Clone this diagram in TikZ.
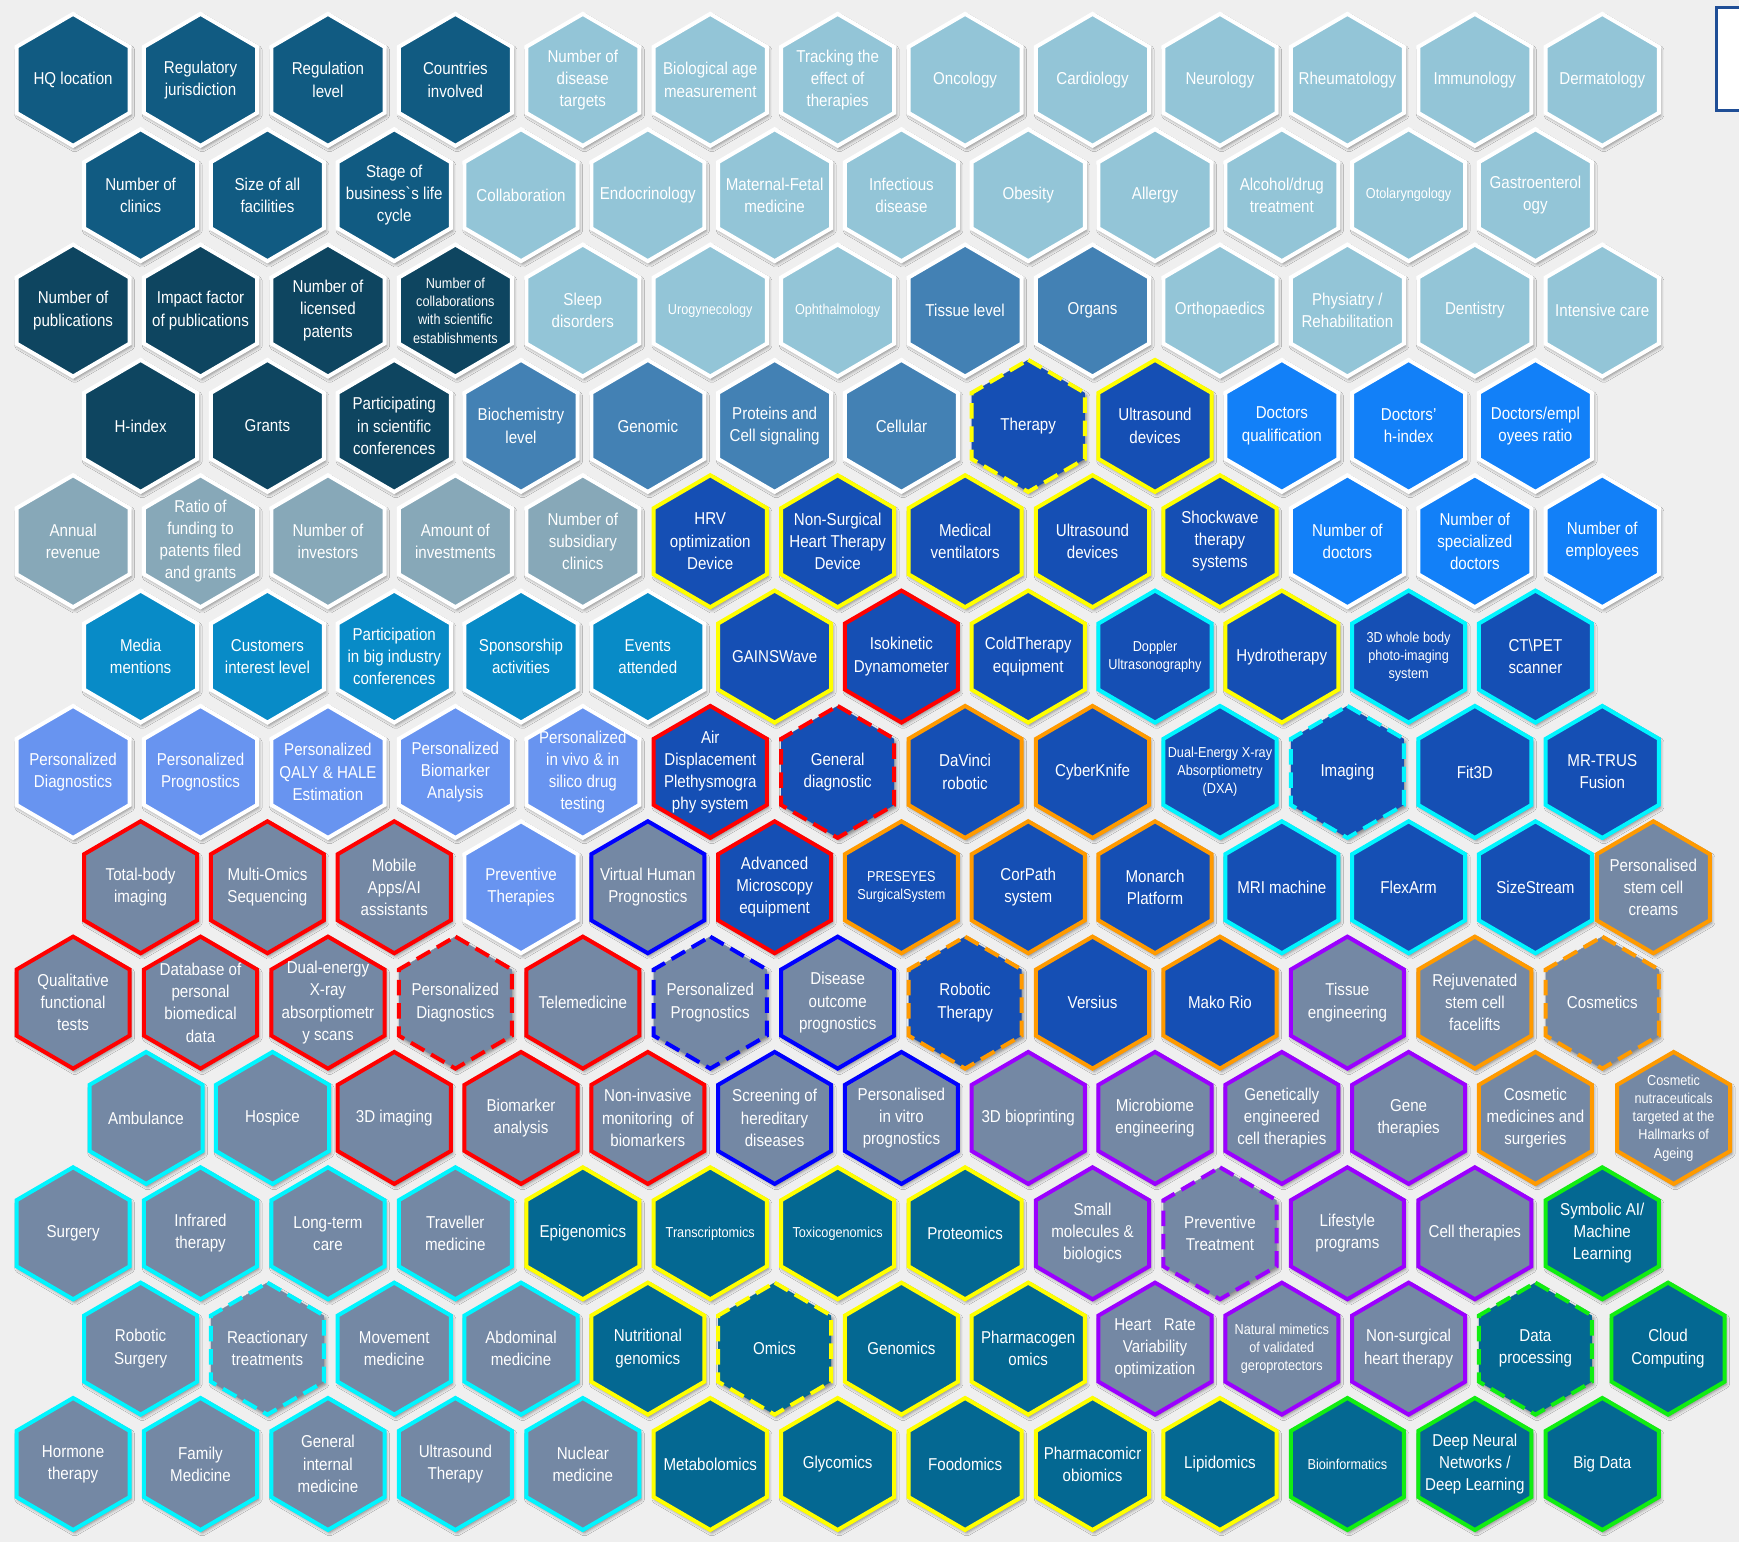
\documentclass[tikz,border=0pt]{standalone}
\usepackage{fontspec}
\setmainfont[FakeStretch=0.88]{Liberation Sans}
\usepackage{tikz}
\usetikzlibrary{shadows.blur}
\definecolor{paper}{HTML}{EFEFEF}
\definecolor{fillDark}{HTML}{115B82}
\definecolor{fillNavy}{HTML}{0E4560}
\definecolor{fillLight}{HTML}{93C5D7}
\definecolor{fillMid}{HTML}{4381B4}
\definecolor{fillBright}{HTML}{1280F8}
\definecolor{fillRoyal}{HTML}{154FB4}
\definecolor{fillGrey}{HTML}{87A8B8}
\definecolor{fillCerul}{HTML}{088BC7}
\definecolor{fillPeri}{HTML}{6894F0}
\definecolor{fillSlate}{HTML}{7488A4}
\definecolor{fillTeal}{HTML}{046892}
\definecolor{edgeRed}{HTML}{FF0000}
\definecolor{edgeYel}{HTML}{FFFF00}
\definecolor{edgeBlue}{HTML}{0000FF}
\definecolor{edgeOra}{HTML}{FF9A00}
\definecolor{edgeCyan}{HTML}{00F5FF}
\definecolor{edgePur}{HTML}{9B00FF}
\definecolor{edgeGrn}{HTML}{11EE11}
\definecolor{legendLine}{HTML}{1F4E96}
\tikzset{
  % --- hexagon cells --------------------------------------------------------
  hexcell/.style  = {draw=white, line width=3.6pt, line join=miter,
                     blur shadow={shadow xshift=1.5pt, shadow yshift=-2.5pt,
                                  shadow blur radius=3pt, shadow opacity=45}},
  hexlabel/.style = {text=white, align=center, inner sep=0pt,
                     font=\fontsize{15.5}{20}\selectfont},
  smalltxt/.style = {font=\fontsize{13}{16.5}\selectfont},
  brk/.style      = {dash pattern=on 14pt off 7pt},
  % --- fills ----------------------------------------------------------------
  fdark/.style    = {fill=fillDark},
  fnavy/.style    = {fill=fillNavy},
  flight/.style   = {fill=fillLight},
  fmid/.style     = {fill=fillMid},
  fbright/.style  = {fill=fillBright},
  froyal/.style   = {fill=fillRoyal},
  fgrey/.style    = {fill=fillGrey},
  fcerul/.style   = {fill=fillCerul},
  fperi/.style    = {fill=fillPeri},
  fslate/.style   = {fill=fillSlate},
  fteal/.style    = {fill=fillTeal},
  % --- edges ----------------------------------------------------------------
  ered/.style     = {draw=edgeRed},
  eyel/.style     = {draw=edgeYel},
  eblue/.style    = {draw=edgeBlue},
  eora/.style     = {draw=edgeOra},
  ecyan/.style    = {draw=edgeCyan},
  epur/.style     = {draw=edgePur},
  egrn/.style     = {draw=edgeGrn},
}
% [label opts]{name}{column}{row}{cell opts}{text}
\newcommand{\hexcell}[6][]{%
  \pgfmathsetmacro{\hx}{isodd(#4) ? 65.9+114.9*#3 : 126.8+114.33*#3}%
  \pgfmathsetmacro{\hy}{72+104*(#4-1)}%
  \draw[hexcell, #5] (\hx,\hy) +(0,-59.5) -- +(51,-29.8) -- +(51,29.8)
     -- +(0,59.5) -- +(-51,29.8) -- +(-51,-29.8) -- cycle;
  \node[hexlabel, #1] (#2) at (\hx,\hy) {#6};%
}

\begin{document}
\begin{tikzpicture}[x=1pt, y=-1pt]

\useasboundingbox (0,0) rectangle (1568,1390);
\fill[paper] (0,0) rectangle (1568,1390);
\clip (0,0) rectangle (1568,1390);

% ------------------------------ legend edge --------------------------------
\draw[legendLine, line width=2.6pt, fill=white] (1548,7) rectangle (1620,100);

% ------------------------------- row 1 -------------------------------------
\hexcell{hq}{0}{1}{fdark}{HQ location}
\hexcell{regjur}{1}{1}{fdark}{Regulatory\\jurisdiction}
\hexcell{reglev}{2}{1}{fdark}{Regulation\\level}
\hexcell{countries}{3}{1}{fdark}{Countries\\involved}
\hexcell{distargets}{4}{1}{flight}{Number of\\disease\\targets}
\hexcell{bioage}{5}{1}{flight}{Biological age\\measurement}
\hexcell{tracking}{6}{1}{flight}{Tracking the\\effect of\\therapies}
\hexcell{onco}{7}{1}{flight}{Oncology}
\hexcell{cardio}{8}{1}{flight}{Cardiology}
\hexcell{neuro}{9}{1}{flight}{Neurology}
\hexcell{rheuma}{10}{1}{flight}{Rheumatology}
\hexcell{immuno}{11}{1}{flight}{Immunology}
\hexcell{derma}{12}{1}{flight}{Dermatology}

% ------------------------------- row 2 -------------------------------------
\hexcell{clinics}{0}{2}{fdark}{Number of\\clinics}
\hexcell{facilities}{1}{2}{fdark}{Size of all\\facilities}
\hexcell{lifecycle}{2}{2}{fdark}{Stage of\\business\textasciigrave s life\\cycle}
\hexcell{collab}{3}{2}{flight}{Collaboration}
\hexcell{endo}{4}{2}{flight}{Endocrinology}
\hexcell{matfetal}{5}{2}{flight}{Maternal-Fetal\\medicine}
\hexcell{infect}{6}{2}{flight}{Infectious\\disease}
\hexcell{obesity}{7}{2}{flight}{Obesity}
\hexcell{allergy}{8}{2}{flight}{Allergy}
\hexcell{alcohol}{9}{2}{flight}{Alcohol/drug\\treatment}
\hexcell[smalltxt]{otolar}{10}{2}{flight}{Otolaryngology}
\hexcell{gastro}{11}{2}{flight}{Gastroenterol\\ogy}

% ------------------------------- row 3 -------------------------------------
\hexcell{pubs}{0}{3}{fnavy}{Number of\\publications}
\hexcell{impact}{1}{3}{fnavy}{Impact factor\\of publications}
\hexcell{patents}{2}{3}{fnavy}{Number of\\licensed\\patents}
\hexcell[smalltxt]{collabsci}{3}{3}{fnavy}{Number of\\collaborations\\with scientific\\establishments}
\hexcell{sleep}{4}{3}{flight}{Sleep\\disorders}
\hexcell[smalltxt]{urogyn}{5}{3}{flight}{Urogynecology}
\hexcell[smalltxt]{ophthal}{6}{3}{flight}{Ophthalmology}
\hexcell{tissue}{7}{3}{fmid}{Tissue level}
\hexcell{organs}{8}{3}{fmid}{Organs}
\hexcell{ortho}{9}{3}{flight}{Orthopaedics}
\hexcell{physiatry}{10}{3}{flight}{Physiatry /\\Rehabilitation}
\hexcell{dentistry}{11}{3}{flight}{Dentistry}
\hexcell{intensive}{12}{3}{flight}{Intensive care}

% ------------------------------- row 4 -------------------------------------
\hexcell{hindex}{0}{4}{fnavy}{H-index}
\hexcell{grants}{1}{4}{fnavy}{Grants}
\hexcell{sciconf}{2}{4}{fnavy}{Participating\\in scientific\\conferences}
\hexcell{biochem}{3}{4}{fmid}{Biochemistry\\level}
\hexcell{genomic}{4}{4}{fmid}{Genomic}
\hexcell{proteins}{5}{4}{fmid}{Proteins and\\Cell signaling}
\hexcell{cellular}{6}{4}{fmid}{Cellular}
\hexcell{therapy}{7}{4}{froyal, eyel, brk}{Therapy}
\hexcell{usdev}{8}{4}{froyal, eyel}{Ultrasound\\devices}
\hexcell{docqual}{9}{4}{fbright}{Doctors\\qualification}
\hexcell{doch}{10}{4}{fbright}{Doctors'\\h-index}
\hexcell{docratio}{11}{4}{fbright}{Doctors/empl\\oyees ratio}

% ------------------------------- row 5 -------------------------------------
\hexcell{revenue}{0}{5}{fgrey}{Annual\\revenue}
\hexcell{ratiofund}{1}{5}{fgrey}{Ratio of\\funding to\\patents filed\\and grants}
\hexcell{investors}{2}{5}{fgrey}{Number of\\investors}
\hexcell{investments}{3}{5}{fgrey}{Amount of\\investments}
\hexcell{subsid}{4}{5}{fgrey}{Number of\\subsidiary\\clinics}
\hexcell{hrv}{5}{5}{froyal, eyel}{HRV\\optimization\\Device}
\hexcell{nsheart}{6}{5}{froyal, eyel}{Non-Surgical\\Heart Therapy\\Device}
\hexcell{ventil}{7}{5}{froyal, eyel}{Medical\\ventilators}
\hexcell{usdevb}{8}{5}{froyal, eyel}{Ultrasound\\devices}
\hexcell{shockwave}{9}{5}{froyal, eyel}{Shockwave\\therapy\\systems}
\hexcell{numdoc}{10}{5}{fbright}{Number of\\doctors}
\hexcell{specdoc}{11}{5}{fbright}{Number of\\specialized\\doctors}
\hexcell{employees}{12}{5}{fbright}{Number of\\employees}

% ------------------------------- row 6 -------------------------------------
\hexcell{media}{0}{6}{fcerul}{Media\\mentions}
\hexcell{customers}{1}{6}{fcerul}{Customers\\interest level}
\hexcell{bigconf}{2}{6}{fcerul}{Participation\\in big industry\\conferences}
\hexcell{sponsor}{3}{6}{fcerul}{Sponsorship\\activities}
\hexcell{events}{4}{6}{fcerul}{Events\\attended}
\hexcell{gains}{5}{6}{froyal, eyel}{GAINSWave}
\hexcell{isokin}{6}{6}{froyal, ered}{Isokinetic\\Dynamometer}
\hexcell{coldther}{7}{6}{froyal, eyel}{ColdTherapy\\equipment}
\hexcell[smalltxt]{doppler}{8}{6}{froyal, ecyan}{Doppler\\Ultrasonography}
\hexcell{hydro}{9}{6}{froyal, eyel}{Hydrotherapy}
\hexcell[smalltxt]{wholebody}{10}{6}{froyal, ecyan}{3D whole body\\photo-imaging\\system}
\hexcell{ctpet}{11}{6}{froyal, ecyan}{CT\textbackslash PET\\scanner}

% ------------------------------- row 7 -------------------------------------
\hexcell{pdiag}{0}{7}{fperi}{Personalized\\Diagnostics}
\hexcell{pprog}{1}{7}{fperi}{Personalized\\Prognostics}
\hexcell{pqaly}{2}{7}{fperi}{Personalized\\QALY \& HALE\\Estimation}
\hexcell{pbiom}{3}{7}{fperi}{Personalized\\Biomarker\\Analysis}
\hexcell{pvivo}{4}{7}{fperi}{Personalized\\in vivo \& in\\silico drug\\testing}
\hexcell{airdisp}{5}{7}{froyal, ered}{Air\\Displacement\\Plethysmogra\\phy system}
\hexcell{gendiag}{6}{7}{froyal, ered, brk}{General\\diagnostic}
\hexcell{davinci}{7}{7}{froyal, eora}{DaVinci\\robotic}
\hexcell{cyberknife}{8}{7}{froyal, eora}{CyberKnife}
\hexcell[smalltxt]{dxa}{9}{7}{froyal, ecyan}{Dual-Energy X-ray\\Absorptiometry\\(DXA)}
\hexcell{imaging}{10}{7}{froyal, ecyan, brk}{Imaging}
\hexcell{fitthreed}{11}{7}{froyal, ecyan}{Fit3D}
\hexcell{mrtrus}{12}{7}{froyal, ecyan}{MR-TRUS\\Fusion}

% ------------------------------- row 8 -------------------------------------
\hexcell{totalbody}{0}{8}{fslate, ered}{Total-body\\imaging}
\hexcell{multiomics}{1}{8}{fslate, ered}{Multi-Omics\\Sequencing}
\hexcell{mobileai}{2}{8}{fslate, ered}{Mobile\\Apps/AI\\assistants}
\hexcell{prevther}{3}{8}{fperi}{Preventive\\Therapies}
\hexcell{virtual}{4}{8}{fslate, eblue}{Virtual Human\\Prognostics}
\hexcell{microscopy}{5}{8}{froyal, ered}{Advanced\\Microscopy\\equipment}
\hexcell[smalltxt]{preseyes}{6}{8}{froyal, eora}{PRESEYES\\SurgicalSystem}
\hexcell{corpath}{7}{8}{froyal, eora}{CorPath\\system}
\hexcell{monarch}{8}{8}{froyal, eora}{Monarch\\Platform}
\hexcell{mri}{9}{8}{froyal, ecyan}{MRI machine}
\hexcell{flexarm}{10}{8}{froyal, ecyan}{FlexArm}
\hexcell{sizestream}{11}{8}{froyal, ecyan}{SizeStream}
\hexcell{stemcream}{11.93}{8}{fslate, eora}{Personalised\\stem cell\\creams}

% ------------------------------- row 9 -------------------------------------
\hexcell{qualtests}{0}{9}{fslate, ered}{Qualitative\\functional\\tests}
\hexcell{database}{1}{9}{fslate, ered}{Database of\\personal\\biomedical\\data}
\hexcell{dualxray}{2}{9}{fslate, ered}{Dual-energy\\X-ray\\absorptiometr\\y scans}
\hexcell{pdiagb}{3}{9}{fslate, ered, brk}{Personalized\\Diagnostics}
\hexcell{telemed}{4}{9}{fslate, ered}{Telemedicine}
\hexcell{pprogb}{5}{9}{fslate, eblue, brk}{Personalized\\Prognostics}
\hexcell{outcome}{6}{9}{fslate, eblue}{Disease\\outcome\\prognostics}
\hexcell{robther}{7}{9}{froyal, eora, brk}{Robotic\\Therapy}
\hexcell{versius}{8}{9}{froyal, eora}{Versius}
\hexcell{mako}{9}{9}{froyal, eora}{Mako Rio}
\hexcell{tissueeng}{10}{9}{fslate, epur}{Tissue\\engineering}
\hexcell{facelifts}{11}{9}{fslate, eora}{Rejuvenated\\stem cell\\facelifts}
\hexcell{cosmetics}{12}{9}{fslate, eora, brk}{Cosmetics}

% ------------------------------- row 10 ------------------------------------
\hexcell{ambulance}{0.043}{10}{fslate, ecyan}{Ambulance}
\hexcell{hospice}{1.04}{10}{fslate, ecyan}{Hospice}
\hexcell{imgthreed}{2}{10}{fslate, ered}{3D imaging}
\hexcell{biomarker}{3}{10}{fslate, ered}{Biomarker\\analysis}
\hexcell{noninv}{4}{10}{fslate, ered}{Non-invasive\\monitoring~~of\\biomarkers}
\hexcell{screening}{5}{10}{fslate, eblue}{Screening of\\hereditary\\diseases}
\hexcell{invitro}{6}{10}{fslate, eblue}{Personalised\\in vitro\\prognostics}
\hexcell{bioprint}{7}{10}{fslate, epur}{3D bioprinting}
\hexcell{microbiome}{8}{10}{fslate, epur}{Microbiome\\engineering}
\hexcell{geneng}{9}{10}{fslate, epur}{Genetically\\engineered\\cell therapies}
\hexcell{genether}{10}{10}{fslate, epur}{Gene\\therapies}
\hexcell{cosmed}{11}{10}{fslate, eora}{Cosmetic\\medicines and\\surgeries}
\hexcell[smalltxt]{nutraceut}{12.09}{10}{fslate, eora}{Cosmetic\\nutraceuticals\\targeted at the\\Hallmarks of\\Ageing}

% ------------------------------- row 11 ------------------------------------
\hexcell{surgery}{0}{11}{fslate, ecyan}{Surgery}
\hexcell{infrared}{1}{11}{fslate, ecyan}{Infrared\\therapy}
\hexcell{longterm}{2}{11}{fslate, ecyan}{Long-term\\care}
\hexcell{traveller}{3}{11}{fslate, ecyan}{Traveller\\medicine}
\hexcell{epigen}{4}{11}{fteal, eyel}{Epigenomics}
\hexcell[smalltxt]{transcript}{5}{11}{fteal, eyel}{Transcriptomics}
\hexcell[smalltxt]{toxico}{6}{11}{fteal, eyel}{Toxicogenomics}
\hexcell{proteo}{7}{11}{fteal, eyel}{Proteomics}
\hexcell{smallmol}{8}{11}{fslate, epur}{Small\\molecules \&\\biologics}
\hexcell{preventtr}{9}{11}{fslate, epur, brk}{Preventive\\Treatment}
\hexcell{lifestyle}{10}{11}{fslate, epur}{Lifestyle\\programs}
\hexcell{celltherapy}{11}{11}{fslate, epur}{Cell therapies}
\hexcell{symbolic}{12}{11}{fteal, egrn}{Symbolic AI/\\Machine\\Learning}

% ------------------------------- row 12 ------------------------------------
\hexcell{robsurg}{0}{12}{fslate, ecyan}{Robotic\\Surgery}
\hexcell{reaction}{1}{12}{fslate, ecyan, brk}{Reactionary\\treatments}
\hexcell{movement}{2}{12}{fslate, ecyan}{Movement\\medicine}
\hexcell{abdominal}{3}{12}{fslate, ecyan}{Abdominal\\medicine}
\hexcell{nutrigen}{4}{12}{fteal, eyel}{Nutritional\\genomics}
\hexcell{omics}{5}{12}{fteal, eyel, brk}{Omics}
\hexcell{genomics}{6}{12}{fteal, eyel}{Genomics}
\hexcell{pharmacogen}{7}{12}{fteal, eyel}{Pharmacogen\\omics}
\hexcell{hrvopt}{8}{12}{fslate, epur}{Heart~~~Rate\\Variability\\optimization}
\hexcell[smalltxt]{mimetics}{9}{12}{fslate, epur}{Natural mimetics\\of validated\\geroprotectors}
\hexcell{nsheartb}{10}{12}{fslate, epur}{Non-surgical\\heart therapy}
\hexcell{dataproc}{11}{12}{fteal, egrn, brk}{Data\\processing}
\hexcell{cloud}{12.046}{12}{fteal, egrn}{Cloud\\Computing}

% ------------------------------- row 13 ------------------------------------
\hexcell{hormone}{0}{13}{fslate, ecyan}{Hormone\\therapy}
\hexcell{family}{1}{13}{fslate, ecyan}{Family\\Medicine}
\hexcell{internal}{2}{13}{fslate, ecyan}{General\\internal\\medicine}
\hexcell{ustherapy}{3}{13}{fslate, ecyan}{Ultrasound\\Therapy}
\hexcell{nuclear}{4}{13}{fslate, ecyan}{Nuclear\\medicine}
\hexcell{metabol}{5}{13}{fteal, eyel}{Metabolomics}
\hexcell{glyco}{6}{13}{fteal, eyel}{Glycomics}
\hexcell{foodo}{7}{13}{fteal, eyel}{Foodomics}
\hexcell{pharmamicro}{8}{13}{fteal, eyel}{Pharmacomicr\\obiomics}
\hexcell{lipido}{9}{13}{fteal, eyel}{Lipidomics}
\hexcell[smalltxt]{bioinf}{10}{13}{fteal, egrn}{Bioinformatics}
\hexcell{deepnn}{11}{13}{fteal, egrn}{Deep Neural\\Networks /\\Deep Learning}
\hexcell{bigdata}{12}{13}{fteal, egrn}{Big Data}

\end{tikzpicture}
\end{document}
